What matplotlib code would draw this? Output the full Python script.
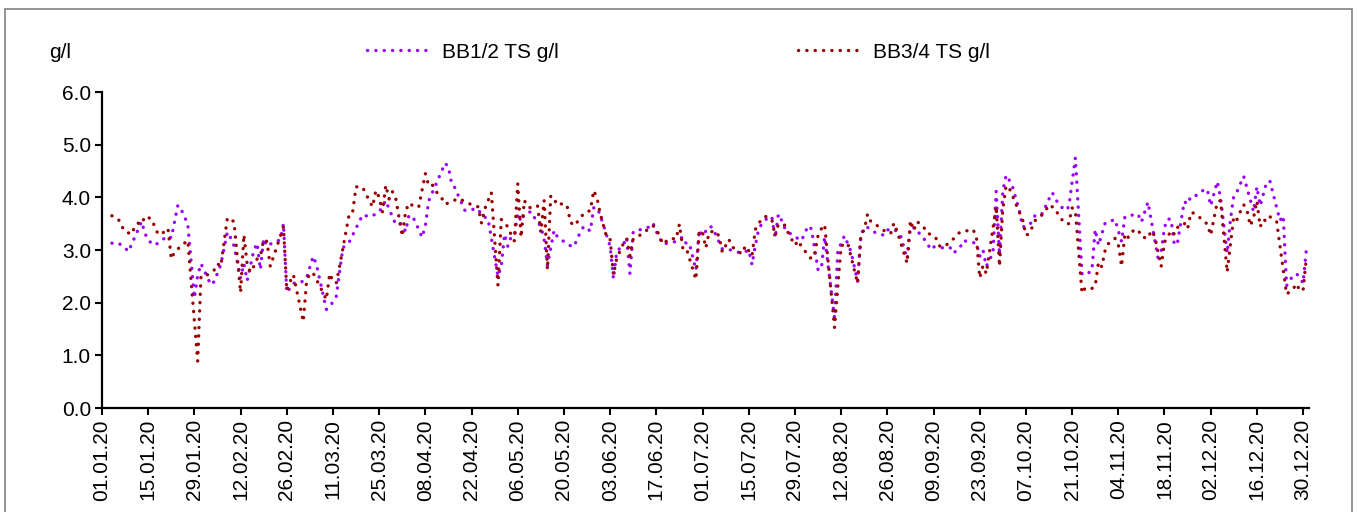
import matplotlib
matplotlib.use("Agg")
import numpy as np
import matplotlib.pyplot as plt
from matplotlib.patches import Rectangle

plt.rcParams['font.family'] = ['Liberation Sans', 'DejaVu Sans']

# day of year (0 = 01.01.20) and g/l values
bb12_days = [3, 5, 7, 8, 9, 12, 13, 14, 16, 18, 20, 21, 23, 24, 25, 26, 28, 29, 30, 31,
             32, 33, 34, 35, 36, 38, 39, 40, 42, 43, 44, 46, 47, 48, 49, 50, 52, 54, 55, 56,
             58, 60, 62, 64, 65, 68, 70, 71, 73, 75, 79, 81, 83, 84, 86, 87, 89, 90, 91, 92,
             93, 94, 95, 97, 98, 99, 104, 105, 106, 107, 108, 110, 112, 114, 115, 117, 120, 121, 122, 123,
             124, 125, 126, 127, 128, 130, 131, 133, 134, 135, 137, 138, 140, 142, 143, 144, 145, 146, 148, 149,
             150, 151, 154, 155, 156, 158, 159, 160, 161, 164, 166, 167, 168, 170, 172, 174, 176, 177, 178, 180,
             181, 182, 184, 185, 186, 188, 190, 192, 194, 196, 197, 198, 199, 200, 202, 203, 204, 205, 206, 207,
             209, 210, 212, 213, 214, 215, 217, 218, 219, 222, 223, 224, 225, 227, 229, 230, 231, 232, 234, 237,
             238, 240, 242, 244, 245, 247, 248, 250, 251, 252, 254, 257, 258, 260, 261, 263, 265, 266, 267, 268,
             269, 270, 271, 272, 273, 274, 275, 276, 278, 279, 281, 283, 285, 287, 288, 289, 290, 292, 293, 295,
             297, 298, 300, 301, 302, 304, 307, 309, 310, 312, 314, 315, 317, 320, 321, 322, 323, 324, 325, 326,
             328, 329, 330, 332, 334, 335, 336, 338, 339, 341, 342, 343, 344, 346, 349, 350, 351, 353, 354, 357,
             358, 359, 360, 362, 363, 364, 365]
bb12_vals = [3.13, 3.13, 3.04, 2.97, 3.11, 3.54, 3.32, 3.18, 3.09, 3.18, 3.27, 3.23, 3.85, 3.77, 3.63, 3.49, 2.09, 2.52, 2.74, 2.61,
             2.47, 2.34, 2.40, 2.56, 2.72, 3.34, 3.23, 3.08, 2.47, 2.74, 2.42, 2.99, 3.13, 2.63, 3.22, 3.07, 3.15, 3.19, 3.50, 2.19,
             2.37, 2.37, 2.47, 2.88, 2.72, 1.87, 2.01, 2.12, 3.04, 3.16, 3.67, 3.63, 3.68, 3.72, 3.94, 3.78, 3.49, 3.51, 3.49, 3.35,
             3.65, 3.65, 3.53, 3.24, 3.46, 3.93, 4.65, 4.57, 4.25, 4.18, 4.03, 3.75, 3.77, 3.78, 3.66, 3.59, 2.50, 2.69, 3.30, 3.07,
             3.25, 3.28, 3.69, 3.54, 3.68, 3.73, 3.62, 3.45, 3.20, 2.71, 3.37, 3.25, 3.16, 3.08, 3.06, 3.21, 3.34, 3.45, 3.36, 3.80,
             3.81, 3.66, 3.07, 2.45, 2.97, 3.10, 3.24, 2.55, 3.35, 3.40, 3.44, 3.51, 3.35, 3.11, 3.14, 3.16, 3.25, 3.13, 3.13, 2.62,
             3.38, 3.27, 3.45, 3.43, 3.29, 3.02, 3.01, 2.97, 2.94, 3.00, 2.72, 3.09, 3.39, 3.50, 3.63, 3.63, 3.23, 3.68, 3.56, 3.40,
             3.29, 3.25, 3.18, 3.32, 3.46, 3.40, 2.63, 2.63, 3.25, 1.71, 3.00, 3.12, 3.27, 2.97, 2.40, 3.28, 3.43, 3.43, 3.34, 3.28,
             3.38, 3.40, 3.28, 2.83, 3.43, 3.41, 3.27, 3.16, 3.01, 3.06, 3.04, 3.05, 2.94, 3.04, 3.18, 3.15, 3.13, 2.88, 3.00, 2.69,
             2.82, 2.93, 4.11, 2.90, 4.11, 4.42, 4.32, 4.19, 3.75, 3.44, 3.46, 3.68, 3.69, 3.97, 4.09, 3.97, 3.86, 3.75, 3.82, 4.75,
             2.55, 2.52, 2.61, 3.39, 3.09, 3.51, 3.58, 3.16, 3.63, 3.66, 3.68, 3.53, 3.91, 2.86, 2.96, 3.43, 3.59, 3.58, 3.09, 3.16,
             3.92, 3.87, 4.02, 4.04, 4.15, 4.15, 3.84, 4.30, 3.99, 2.94, 3.58, 4.03, 4.11, 4.40, 3.73, 4.20, 3.84, 4.30, 4.30, 3.56,
             3.65, 2.32, 2.44, 2.55, 2.48, 2.37, 3.01]

bb34_days = [3, 5, 6, 7, 9, 10, 11, 12, 13, 15, 16, 17, 18, 20, 21, 22, 24, 26, 29, 30,
             32, 34, 35, 36, 38, 40, 42, 43, 44, 45, 46, 47, 48, 49, 50, 51, 55, 56, 57, 58,
             61, 62, 63, 64, 65, 68, 69, 70, 71, 72, 75, 76, 77, 79, 80, 82, 83, 84, 85, 86,
             87, 88, 89, 91, 92, 93, 95, 96, 98, 99, 100, 101, 103, 104, 106, 108, 110, 112, 114, 115,
             116, 118, 120, 121, 123, 124, 125, 126, 127, 128, 129, 130, 132, 133, 134, 135, 136, 137, 138, 140,
             141, 142, 143, 145, 146, 148, 149, 150, 151, 153, 154, 155, 156, 157, 158, 159, 160, 161, 163, 165,
             167, 168, 169, 170, 172, 174, 175, 176, 177, 180, 181, 182, 183, 184, 186, 187, 188, 190, 191, 193,
             194, 195, 197, 198, 199, 201, 203, 204, 205, 207, 208, 210, 211, 212, 215, 216, 217, 218, 219, 222,
             224, 226, 229, 230, 231, 232, 233, 235, 237, 239, 240, 241, 244, 245, 246, 247, 249, 250, 252, 253,
             254, 256, 258, 260, 261, 264, 265, 266, 267, 268, 271, 272, 273, 274, 275, 276, 278, 279, 280, 281,
             283, 285, 286, 287, 289, 290, 292, 293, 294, 295, 297, 298, 300, 301, 302, 303, 304, 305, 307, 308,
             309, 310, 311, 312, 314, 315, 317, 318, 319, 321, 322, 323, 324, 325, 326, 328, 329, 330, 331, 333,
             335, 336, 337, 338, 339, 341, 343, 344, 345, 346, 347, 348, 349, 350, 351, 352, 353, 354, 356, 359,
             361, 362, 363, 364, 365]
bb34_vals = [3.65, 3.58, 3.45, 3.35, 3.30, 3.46, 3.51, 3.49, 3.64, 3.59, 3.44, 3.30, 3.30, 3.41, 2.83, 2.96, 3.08, 3.18, 0.89, 2.51,
             2.53, 2.62, 2.74, 2.69, 3.61, 3.54, 2.19, 3.29, 2.72, 2.58, 2.69, 2.83, 2.88, 3.20, 3.16, 2.69, 3.44, 2.23, 2.40, 2.53,
             1.64, 2.41, 2.56, 2.56, 2.44, 2.06, 2.55, 2.41, 2.37, 2.69, 3.71, 3.74, 4.20, 4.19, 4.06, 3.82, 4.13, 4.00, 3.72, 4.23,
             3.97, 4.11, 3.99, 3.26, 3.73, 3.89, 3.81, 3.82, 4.45, 4.23, 4.25, 4.13, 3.98, 3.87, 3.92, 3.98, 3.92, 3.86, 3.82, 3.51,
             3.78, 4.09, 2.33, 3.58, 3.44, 3.29, 3.17, 4.26, 3.24, 3.94, 3.82, 3.80, 3.84, 3.34, 3.94, 2.63, 4.03, 3.97, 3.85, 3.89,
             3.82, 3.53, 3.46, 3.60, 3.70, 3.75, 4.13, 3.99, 3.69, 3.23, 3.20, 2.53, 2.84, 2.98, 3.12, 3.22, 2.89, 3.21, 3.28, 3.37,
             3.46, 3.40, 3.26, 3.11, 3.22, 3.21, 3.49, 3.04, 3.05, 2.44, 3.37, 3.34, 3.04, 3.34, 3.36, 3.26, 2.96, 3.20, 3.06, 2.96,
             2.93, 3.08, 2.89, 3.39, 3.51, 3.64, 3.58, 3.27, 3.49, 3.47, 3.32, 3.09, 3.18, 3.06, 2.83, 2.94, 3.27, 3.40, 3.48, 1.53,
             3.08, 3.13, 2.37, 3.30, 3.38, 3.68, 3.54, 3.46, 3.37, 3.31, 3.51, 3.35, 2.75, 3.56, 3.37, 3.54, 3.44, 3.32, 3.28, 3.20,
             3.06, 3.10, 3.21, 3.34, 3.35, 3.39, 3.25, 2.47, 2.70, 2.55, 3.83, 2.69, 3.77, 4.22, 4.17, 4.02, 3.72, 3.58, 3.28, 3.31,
             3.58, 3.67, 3.75, 3.86, 3.78, 3.64, 3.50, 3.50, 3.80, 3.75, 2.18, 2.28, 2.27, 2.31, 2.77, 2.68, 2.99, 3.12, 3.22, 3.11,
             2.69, 3.31, 3.24, 3.35, 3.39, 3.25, 3.22, 3.37, 3.27, 2.69, 3.15, 3.25, 3.37, 3.30, 3.43, 3.51, 3.40, 3.71, 3.70, 3.60,
             3.49, 3.28, 3.59, 3.91, 3.94, 2.58, 3.64, 3.58, 3.73, 3.86, 3.76, 3.46, 3.61, 3.93, 3.44, 3.58, 3.54, 3.63, 3.54, 2.16,
             2.26, 2.36, 2.23, 2.23, 2.86]

tick_labels = ["01.01.20", "15.01.20", "29.01.20", "12.02.20", "26.02.20", "11.03.20", "25.03.20",
               "08.04.20", "22.04.20", "06.05.20", "20.05.20", "03.06.20", "17.06.20", "01.07.20",
               "15.07.20", "29.07.20", "12.08.20", "26.08.20", "09.09.20", "23.09.20", "07.10.20",
               "21.10.20", "04.11.20", "18.11.20", "02.12.20", "16.12.20", "30.12.20"]
yticks = [0.0, 1.0, 2.0, 3.0, 4.0, 5.0, 6.0]

W, H = 1358, 512
fig = plt.figure(figsize=(W / 100, H / 100), dpi=100)
ax = fig.add_axes([102 / W, 1 - 408 / H, (1309 - 102) / W, (408 - 92) / H])

dots = (0, (0.05, 2.45))
ax.plot(bb12_days, bb12_vals, color='#9900ff', lw=2.4, linestyle=dots,
        dash_capstyle='round', label='BB1/2 TS g/l')
ax.plot(bb34_days, bb34_vals, color='#990000', lw=2.4, linestyle=dots,
        dash_capstyle='round', label='BB3/4 TS g/l')

ax.set_xlim(0, 365.8)
ax.set_ylim(0, 6)
ax.set_xticks(np.arange(len(tick_labels)) * 14)
ax.set_xticklabels(tick_labels, rotation=90, fontsize=15)
ax.set_yticks(yticks)
ax.set_yticklabels(['%.1f' % v for v in yticks], fontsize=15)
ax.tick_params(direction='out', length=5, width=1.5, pad=3)

for s in ['top', 'right']:
    ax.spines[s].set_visible(False)
for s in ['left', 'bottom']:
    ax.spines[s].set_linewidth(1.6)

fig.text(60 / W, 1 - 52 / H, 'g/l', fontsize=15, ha='center', va='center')

ax.legend(loc='center left', bbox_to_anchor=(367 / W, 1 - 52 / H),
          bbox_transform=fig.transFigure, ncol=2, frameon=False, fontsize=15,
          borderpad=0, borderaxespad=0, handlelength=3.1, handletextpad=0.5,
          columnspacing=11.5)

fig.patches.append(Rectangle((5 / W, -0.1), (1352 - 5) / W, 1.1 - 9 / H,
                             transform=fig.transFigure, fill=False,
                             edgecolor='#808080', lw=1.2))

fig.savefig('out.png', dpi=100)
